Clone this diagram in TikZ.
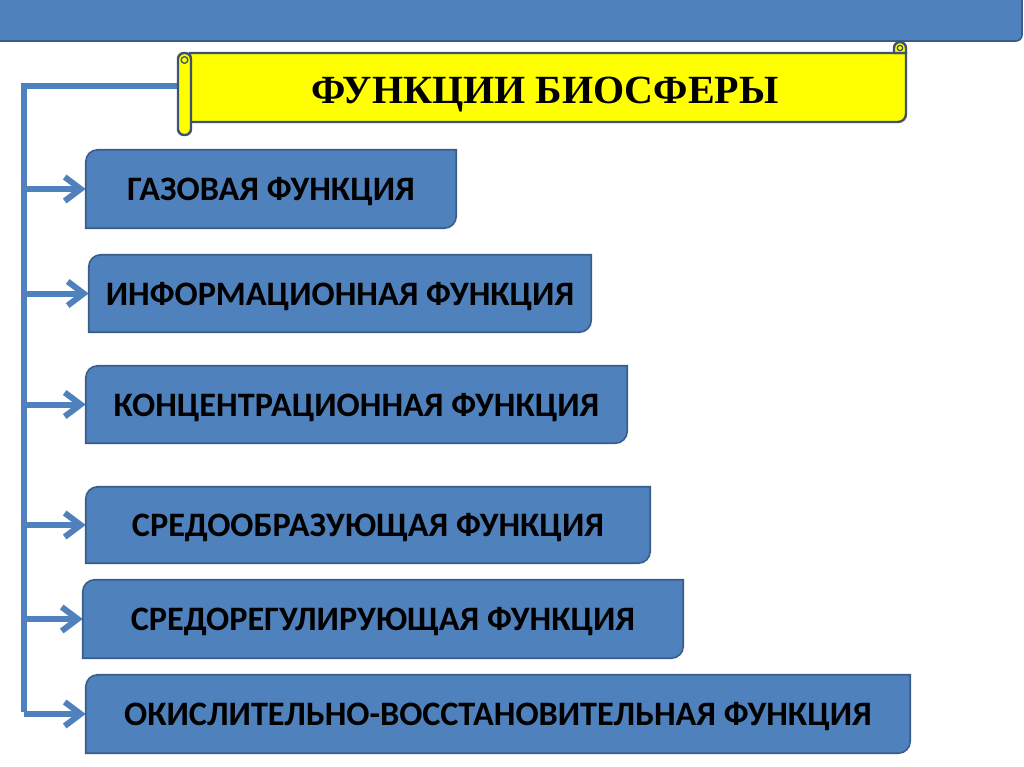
\documentclass[tikz,border=0pt]{standalone}
\usepackage{fontspec}
\setsansfont{Carlito}
\newfontfamily\titlefont{Liberation Serif}
\usetikzlibrary{arrows.meta,backgrounds}
\definecolor{barblue}{RGB}{79,129,189}
\definecolor{boxline}{RGB}{56,93,138}
\definecolor{scrollline}{RGB}{62,84,108}
\definecolor{scrollfill}{RGB}{255,255,0}
\tikzset{
  funcbox/.style={inner sep=0pt, text=black, text depth=0pt,
    font=\sffamily\bfseries\fontsize{25.7}{30}\selectfont},
  boxshape/.style={fill=barblue, draw=boxline, line width=1.2pt},
  scroll/.style={fill=scrollfill, draw=scrollline, line width=1.8pt},
  spine/.style={draw=barblue, line width=4.5pt},
  arr/.style={spine, -{Straight Barb[length=12pt,width=18pt]}},
}
\begin{document}
\begin{tikzpicture}[x=0.75pt,y=-0.75pt]
  \useasboundingbox (0,0) rectangle (1024,767);
  \node[text depth=0pt] (title) at (545,90)
    {\titlefont\bfseries\fontsize{30}{34}\selectfont ФУНКЦИИ БИОСФЕРЫ};
  \node[funcbox, minimum width=277.5pt, minimum height=58.5pt] (gas) at (271,189)
    {ГАЗОВАЯ ФУНКЦИЯ};
  \node[funcbox, minimum width=376.5pt, minimum height=57.75pt] (info) at (340,293.5)
    {ИНФОРМАЦИОННАЯ ФУНКЦИЯ};
  \node[funcbox, minimum width=405.75pt, minimum height=57.75pt] (conc) at (356.5,404.5)
    {КОНЦЕНТРАЦИОННАЯ ФУНКЦИЯ};
  \node[funcbox, minimum width=423pt, minimum height=57pt] (sreob) at (368,525)
    {СРЕДООБРАЗУЮЩАЯ ФУНКЦИЯ};
  \node[funcbox, minimum width=450pt, minimum height=58.5pt] (srreg) at (383,619)
    {СРЕДОРЕГУЛИРУЮЩАЯ ФУНКЦИЯ};
  \node[funcbox, minimum width=618pt, minimum height=58.5pt] (okis) at (498,714)
    {ОКИСЛИТЕЛЬНО-ВОССТАНОВИТЕЛЬНАЯ ФУНКЦИЯ};
  \coordinate (scrollL) at (180,86);
  \coordinate (top) at (24,86);
  \coordinate (bot) at (24,709);
  \begin{scope}[on background layer]
    \fill[white] (0,0) rectangle (1024,767);
    % top bar
    \filldraw[fill=barblue, draw=boxline, line width=1.2pt]
      (-2,-2) -- (1022,-2) -- (1022,35) arc[start angle=0,end angle=-90,radius=4.5pt]
      -- (-2,41) -- cycle;
    % spine and arrows
    \draw[spine] (scrollL) -- (top) -- (bot) [line cap=rect];
    \foreach \n in {gas,info,conc,sreob,srreg,okis}
      \draw[arr] (top |- \n.west) -- (\n.west);
    % scroll
    \filldraw[scroll] (190,53) -- (906,53) -- (906,114)
      arc[start angle=0,end angle=-90,radius=6pt] -- (190,122) -- cycle;
    \filldraw[scroll] (894,53) -- (894,48)
      arc[start angle=180,end angle=0,radius=4.5pt] -- (906,53) -- cycle;
    \draw[scrollline, line width=1pt] (900,48) circle[radius=2pt];
    \filldraw[scroll, rounded corners=4.5pt] (178,53) rectangle (191,135);
    \draw[scrollline, line width=1pt] (184.5,60) circle[radius=2.5pt];
    % boxes
    \foreach \n in {gas,info,conc,sreob,srreg,okis}
      \filldraw[boxshape] (\n.south west) -- ([yshift=-9pt]\n.north west)
        arc[start angle=180,end angle=90,radius=9pt] -- (\n.north east)
        -- ([yshift=9pt]\n.south east) arc[start angle=0,end angle=-90,radius=9pt]
        -- cycle;
  \end{scope}
\end{tikzpicture}
\end{document}
